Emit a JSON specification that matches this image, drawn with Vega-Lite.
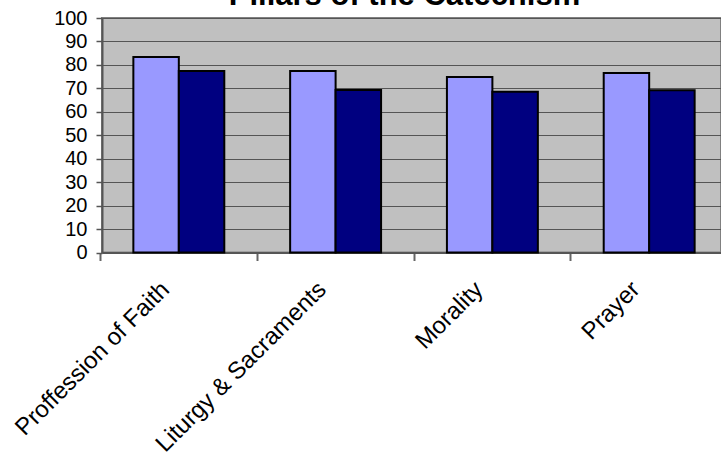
{
  "$schema": "https://vega.github.io/schema/vega-lite/v6.json",
  "width": 619,
  "height": 234.5,
  "autosize": {"type": "none"},
  "padding": {"left": 102, "top": 18, "right": 0, "bottom": 205},
  "background": "white",
  "title": {
    "text": "Pillars of the Catechism",
    "font": "Liberation Sans",
    "fontSize": 31,
    "fontWeight": "bold",
    "color": "black",
    "anchor": "middle",
    "frame": "group",
    "baseline": "alphabetic",
    "offset": -28,
    "dx": -7
  },
  "data": {
    "values": [
      {"pillar": "Proffession of Faith", "series": "Series1", "score": 83.4},
      {"pillar": "Proffession of Faith", "series": "Series2", "score": 77.4},
      {"pillar": "Liturgy & Sacraments", "series": "Series1", "score": 77.4},
      {"pillar": "Liturgy & Sacraments", "series": "Series2", "score": 69.3},
      {"pillar": "Morality", "series": "Series1", "score": 74.8},
      {"pillar": "Morality", "series": "Series2", "score": 68.6},
      {"pillar": "Prayer", "series": "Series1", "score": 76.5},
      {"pillar": "Prayer", "series": "Series2", "score": 69.2}
    ]
  },
  "mark": {"type": "bar", "stroke": "black", "strokeWidth": 2},
  "encoding": {
    "x": {
      "field": "pillar",
      "type": "nominal",
      "sort": null,
      "scale": {"range": [0, 624], "paddingInner": 0.42, "paddingOuter": 0.2},
      "axis": {
        "title": null,
        "grid": false,
        "domainColor": "#555555",
        "domainWidth": 2,
        "ticks": true,
        "tickSize": 8,
        "tickColor": "#666666",
        "tickWidth": 2,
        "bandPosition": -0.36,
        "labelAngle": -45,
        "labelAlign": "right",
        "labelBaseline": "middle",
        "labelFont": "Liberation Sans",
        "labelFontSize": 24,
        "labelColor": "black",
        "labelPadding": 25,
        "labelOffset": -13,
        "labelLimit": 0,
        "labelOverlap": false
      }
    },
    "xOffset": {"field": "series", "type": "nominal", "sort": null},
    "y": {
      "field": "score",
      "type": "quantitative",
      "scale": {"domain": [0, 100], "nice": false},
      "axis": {
        "title": null,
        "values": [0, 10, 20, 30, 40, 50, 60, 70, 80, 90, 100],
        "grid": true,
        "gridColor": "#555555",
        "gridWidth": 1,
        "gridOpacity": 1,
        "domainColor": "#555555",
        "domainWidth": 2,
        "tickColor": "#555555",
        "tickSize": 6,
        "tickWidth": 1.5,
        "labelFont": "Liberation Sans",
        "labelFontSize": 20,
        "labelColor": "black",
        "labelPadding": 9
      }
    },
    "color": {
      "field": "series",
      "type": "nominal",
      "scale": {"domain": ["Series1", "Series2"], "range": ["#9999FF", "#000080"]},
      "legend": null
    }
  },
  "config": {
    "view": {"fill": "#C0C0C0", "stroke": "#808080", "strokeWidth": 2}
  }
}
